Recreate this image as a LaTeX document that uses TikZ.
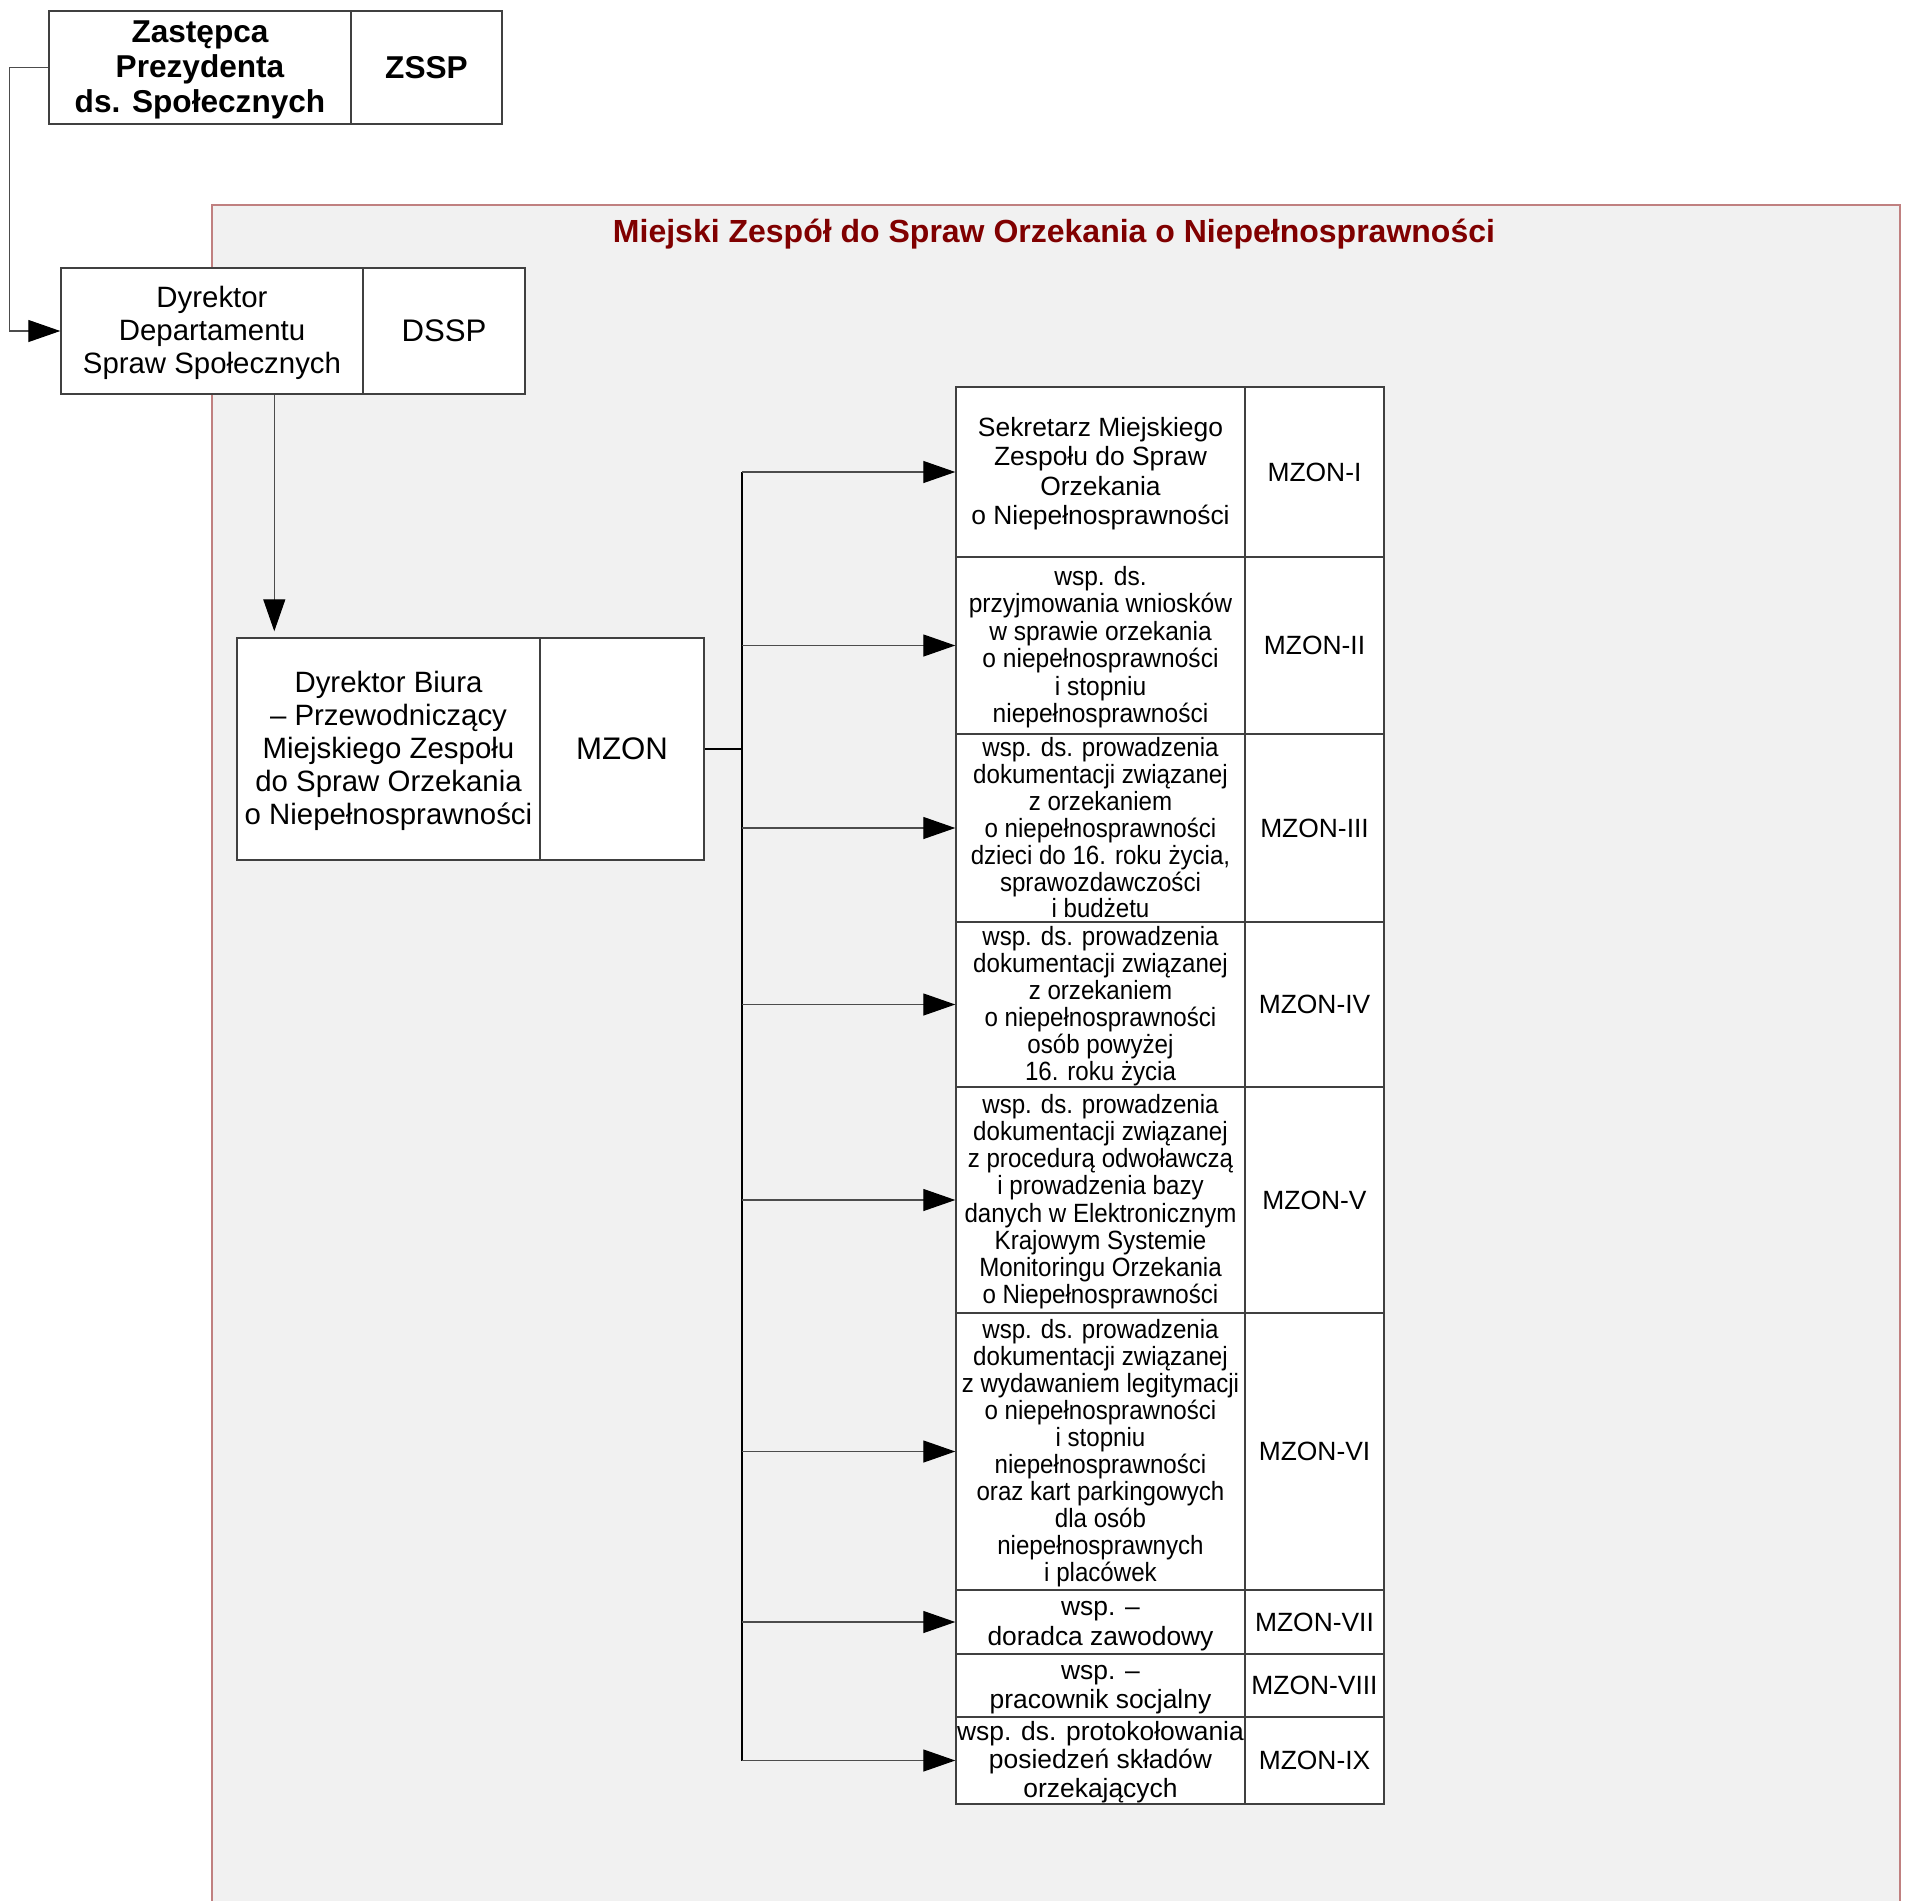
\documentclass[tikz,border=0pt]{standalone}
\usepackage{fontspec}
\setmainfont{Liberation Sans}
\newfontfamily\waski[FakeStretch=0.913]{Liberation Sans}
\newfontfamily\sredni[FakeStretch=0.93]{Liberation Sans}
\usetikzlibrary{arrows.meta}

\definecolor{ramka}{HTML}{C08080}
\definecolor{tlo}{HTML}{F1F1F1}
\definecolor{tytul}{HTML}{800000}

% podparcie pierwszej i ostatniej linii
\newcommand\gora{\rule{0pt}{0.85em}}
\newcommand\dol{\rule[-0.15em]{0pt}{0.15em}}

\begin{document}
\begin{tikzpicture}[x=0.5pt, y=-0.5pt,
                    cell/.style={draw=black!75, fill=white, line width=0.7pt,
                                 inner sep=0pt, align=center},
                    headfont/.style={font=\bfseries\fontsize{15.8}{17.6}\selectfont},
                    bodyfont/.style={font=\fontsize{14.7}{16.4}\selectfont},
                    codefont/.style={font=\fontsize{15.6}{17}\selectfont},
                    rowfont/.style={font=\fontsize{13.2}{#1}\selectfont},
                    midfont/.style={font=\sredni\fontsize{13.2}{#1}\selectfont},
                    narrowfont/.style={font=\waski\fontsize{13.2}{#1}\selectfont},
                    arr/.style={-{Triangle[length=16pt,width=11pt,color=black]},
                                draw=black!70, line width=0.6pt},
                    bus/.style={draw=black, line width=1pt}]
                      \useasboundingbox (0,0) rectangle (1908,1901);

                      % obszar zespolu
                      \node[draw=ramka, fill=tlo, line width=0.8pt, inner sep=0pt,
                            minimum width=844pt, minimum height=855pt] (zespol) at (1056,1060) {};
                      \node[text=tytul, font=\bfseries\fontsize{16}{18}\selectfont] (tytul) at (1054,234)
                            {Miejski Zespół do Spraw Orzekania o Niepełnosprawności};

                      % kierownictwo
                      \node[cell, headfont, minimum width=151pt, minimum height=56.5pt] (zs) at (200,67.5)
                            {\gora Zastępca\\Prezydenta\\ds. Społecznych\dol};
                      \node[cell, headfont, minimum width=75.5pt, minimum height=56.5pt] (zsk) at (426.5,67.5) {ZSSP};

                      \node[cell, bodyfont, minimum width=151pt, minimum height=63pt] (ds) at (212,331)
                            {\gora Dyrektor\\Departamentu\\Spraw Społecznych\dol};
                      \node[cell, codefont, minimum width=81pt, minimum height=63pt] (dsk) at (444,331) {DSSP};

                      \node[cell, bodyfont, minimum width=151.5pt, minimum height=111pt] (mz) at (388.5,749)
                            {\gora Dyrektor Biura\\– Przewodniczący\\Miejskiego Zespołu\\do Spraw Orzekania\\o Niepełnosprawności\dol};
                      \node[cell, codefont, minimum width=82pt, minimum height=111pt] (mzk) at (622,749) {MZON};

                      % stanowiska
                      \node[cell, rowfont=14.8, minimum width=144.5pt, minimum height=85pt] (r1) at (1100.5,472)
                            {\gora Sekretarz Miejskiego\\Zespołu do Spraw\\Orzekania\\o Niepełnosprawności\dol};
                      \node[cell, rowfont=14, minimum width=69.5pt, minimum height=85pt] (k1) at (1314.5,472) {MZON-I};

                      \node[cell, midfont=13.75, minimum width=144.5pt, minimum height=88.5pt] (r2) at (1100.5,645.5)
                            {\gora wsp. ds.\\przyjmowania wniosków\\w sprawie orzekania\\o niepełnosprawności\\i stopniu\\niepełnosprawności\dol};
                      \node[cell, rowfont=14, minimum width=69.5pt, minimum height=88.5pt] (k2) at (1314.5,645.5) {MZON-II};

                      \node[cell, narrowfont=13.45, minimum width=144.5pt, minimum height=94pt] (r3) at (1100.5,828)
                            {\gora wsp. ds. prowadzenia\\dokumentacji związanej\\z orzekaniem\\o niepełnosprawności\\dzieci do 16. roku życia,\\sprawozdawczości\\i budżetu\dol};
                      \node[cell, rowfont=14, minimum width=69.5pt, minimum height=94pt] (k3) at (1314.5,828) {MZON-III};

                      \node[cell, narrowfont=13.55, minimum width=144.5pt, minimum height=82.5pt] (r4) at (1100.5,1004.5)
                            {\gora wsp. ds. prowadzenia\\dokumentacji związanej\\z orzekaniem\\o niepełnosprawności\\osób powyżej\\16. roku życia\dol};
                      \node[cell, rowfont=14, minimum width=69.5pt, minimum height=82.5pt] (k4) at (1314.5,1004.5) {MZON-IV};

                      \node[cell, narrowfont=13.55, minimum width=144.5pt, minimum height=113pt] (r5) at (1100.5,1200)
                            {\gora wsp. ds. prowadzenia\\dokumentacji związanej\\z procedurą odwoławczą\\i prowadzenia bazy\\danych w Elektronicznym\\Krajowym Systemie\\Monitoringu Orzekania\\o Niepełnosprawności\dol};
                      \node[cell, rowfont=14, minimum width=69.5pt, minimum height=113pt] (k5) at (1314.5,1200) {MZON-V};

                      \node[cell, narrowfont=13.5, minimum width=144.5pt, minimum height=138.5pt] (r6) at (1100.5,1451.5)
                            {\gora wsp. ds. prowadzenia\\dokumentacji związanej\\z wydawaniem legitymacji\\o niepełnosprawności\\i stopniu\\niepełnosprawności\\oraz kart parkingowych\\dla osób\\niepełnosprawnych\\i placówek\dol};
                      \node[cell, rowfont=14, minimum width=69.5pt, minimum height=138.5pt] (k6) at (1314.5,1451.5) {MZON-VI};

                      \node[cell, rowfont=14.6, minimum width=144.5pt, minimum height=32pt] (r7) at (1100.5,1622)
                            {\gora wsp. –\\doradca zawodowy\dol};
                      \node[cell, rowfont=14, minimum width=69.5pt, minimum height=32pt] (k7) at (1314.5,1622) {MZON-VII};

                      \node[cell, rowfont=14.6, minimum width=144.5pt, minimum height=31.5pt] (r8) at (1100.5,1685.5)
                            {\gora wsp. –\\pracownik socjalny\dol};
                      \node[cell, rowfont=14, minimum width=69.5pt, minimum height=31.5pt] (k8) at (1314.5,1685.5) {MZON-VIII};

                      \node[cell, rowfont=14.4, minimum width=144.5pt, minimum height=43.5pt] (r9) at (1100.5,1760.5)
                            {\gora wsp. ds. protokołowania\\posiedzeń składów\\orzekających\dol};
                      \node[cell, rowfont=14, minimum width=69.5pt, minimum height=43.5pt] (k9) at (1314.5,1760.5) {MZON-IX};

                      % polaczenia
                      \draw[arr] (zs.west) -- ++(-39,0) |- (ds.west);
                      \draw[arr, shorten >=3pt] ([xshift=19pt]mz.north west |- ds.south) -- ([xshift=19pt]mz.north west);

                      \coordinate (bus) at (742,749);
                      \draw[bus] (mzk.east) -- (bus);
                      \draw[bus] (bus |- r1.west) -- (bus |- r9.west);
                      \foreach \r in {r1, r2, r3, r4, r5, r6, r7, r9} {
                              \draw[arr] (bus |- \r.west) -- (\r.west);
                          }
                  \end{tikzpicture}
\end{document}
